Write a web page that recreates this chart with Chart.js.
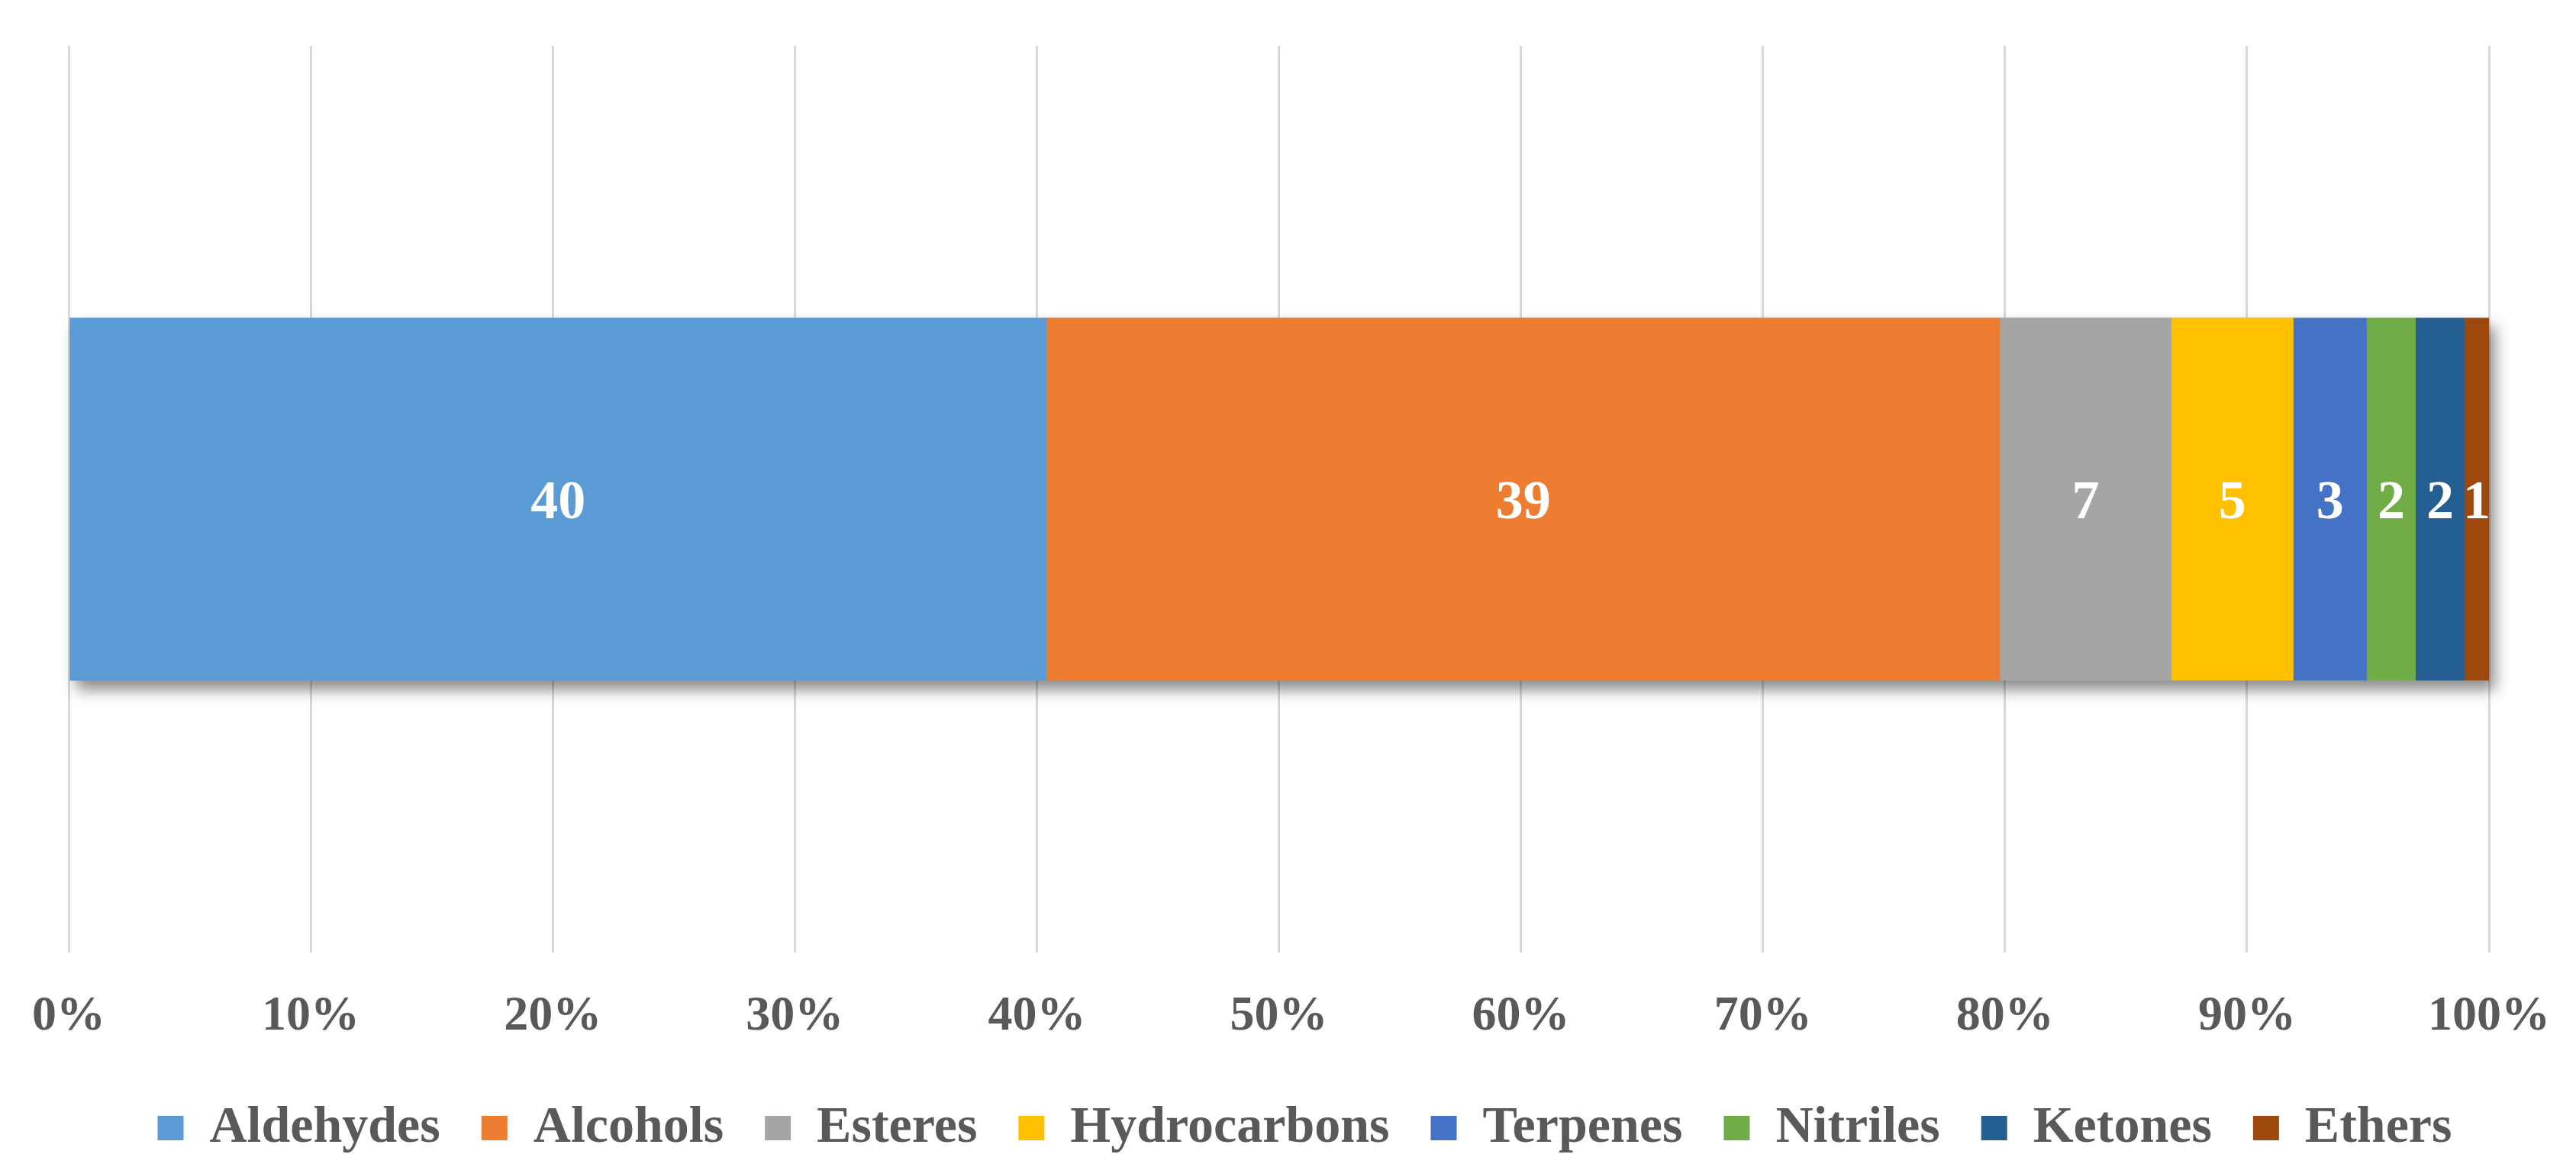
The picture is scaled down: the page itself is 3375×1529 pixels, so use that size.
<!DOCTYPE html>
<html>
<head>
<meta charset="utf-8">
<script src="https://cdn.jsdelivr.net/npm/chart.js@4/dist/chart.umd.min.js"></script>
<style>
    html, body { margin: 0; padding: 0; background: #fff; }
    #wrap { width: 3375px; height: 1529px; }
</style>
</head>
<body>
<div id="wrap"><canvas id="compoundChart" width="3375" height="1529"></canvas></div>
<script>
// Dados do gráfico
const categories = ['Aldehydes', 'Alcohols', 'Esteres', 'Hydrocarbons', 'Terpenes', 'Nitriles', 'Ketones', 'Ethers'];
const counts = [40, 39, 7, 5, 3, 2, 2, 1];
const colors = ['#5B9BD5', '#ED7D31', '#A5A5A5', '#FFC000', '#4472C4', '#70AD47', '#255E91', '#9E480E'];
const tickLabels = ['0%', '10%', '20%', '30%', '40%', '50%', '60%', '70%', '80%', '90%', '100%'];

const total = counts.reduce((a, b) => a + b, 0);
const FONT = "'Liberation Serif', 'Times New Roman', serif";

// Sombra por baixo da barra empilhada
const shadowPlugin = {
    id: 'barShadow',
    beforeDatasetsDraw(chart) {
        const first = chart.getDatasetMeta(0).data[0];
        const last = chart.getDatasetMeta(chart.data.datasets.length - 1).data[0];
        if (!first || !last) return;
        const ctx = chart.ctx;
        const left = Math.min(first.base, first.x);
        const right = Math.max(last.x, last.base);
        const top = first.y - first.height / 2;
        ctx.save();
        ctx.shadowColor = 'rgba(0, 0, 0, 0.45)';
        ctx.shadowBlur = 18;
        ctx.shadowOffsetX = 8;
        ctx.shadowOffsetY = 12;
        ctx.fillStyle = '#999';
        ctx.fillRect(left, top, right - left, first.height);
        ctx.restore();
    }
};

// Rótulos de valor dentro de cada segmento
const valueLabelPlugin = {
    id: 'valueLabels',
    afterDatasetsDraw(chart) {
        const ctx = chart.ctx;
        ctx.save();
        ctx.font = 'bold 72px ' + FONT;
        ctx.fillStyle = '#ffffff';
        ctx.textAlign = 'center';
        ctx.textBaseline = 'middle';
        chart.data.datasets.forEach((ds, i) => {
            const bar = chart.getDatasetMeta(i).data[0];
            if (!bar) return;
            const cx = (bar.x + bar.base) / 2;
            ctx.fillText(String(counts[i]), cx, bar.y + 6);
        });
        ctx.restore();
    }
};

// Desloca a legenda um pouco para a direita, como no original
const legendShiftPlugin = {
    id: 'legendShift',
    afterLayout(chart) {
        if (!chart.legend) return;
        chart.legend.left += 34;
        chart.legend.right += 34;
    }
};

const datasets = categories.map((name, i) => ({
    label: name,
    data: [counts[i] / total * 100],
    backgroundColor: colors[i],
    borderWidth: 0,
    barPercentage: 0.4,
    categoryPercentage: 1.0
}));

new Chart(document.getElementById('compoundChart').getContext('2d'), {
    type: 'bar',
    data: {
        labels: [''],
        datasets: datasets
    },
    options: {
        indexAxis: 'y',
        responsive: false,
        animation: false,
        layout: {
            padding: { top: 60, left: 90, right: 114, bottom: 7 }
        },
        plugins: {
            legend: {
                position: 'bottom',
                labels: {
                    boxWidth: 34,
                    boxHeight: 32,
                    padding: 54,
                    color: '#595959',
                    font: { family: FONT, size: 68, weight: 'bold' }
                }
            },
            tooltip: { enabled: false }
        },
        scales: {
            x: {
                stacked: true,
                min: 0,
                max: 100,
                afterFit(scale) {
                    scale.height = 142;
                },
                ticks: {
                    stepSize: 10,
                    padding: 30,
                    color: '#595959',
                    font: { family: FONT, size: 64, weight: 'bold' },
                    callback: (value, index) => tickLabels[index]
                },
                grid: {
                    color: '#D9D9D9',
                    lineWidth: 3,
                    drawTicks: true,
                    tickLength: 16,
                    tickColor: 'rgba(0, 0, 0, 0)'
                },
                border: { display: false }
            },
            y: {
                stacked: true,
                display: false
            }
        }
    },
    plugins: [shadowPlugin, valueLabelPlugin, legendShiftPlugin]
});
</script>
</body>
</html>
